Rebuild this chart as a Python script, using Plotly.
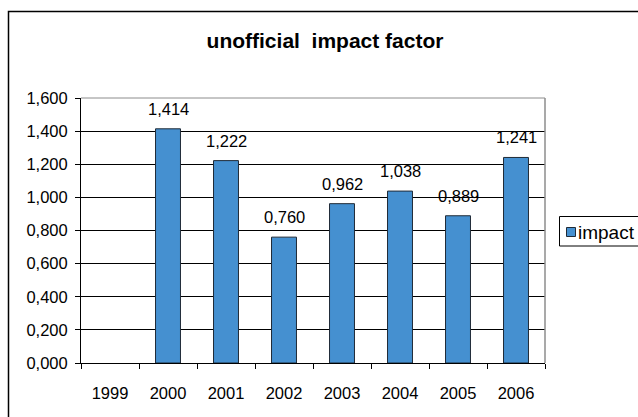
import plotly.graph_objects as go

years = ["1999", "2000", "2001", "2002", "2003", "2004", "2005", "2006"]
impact = [None, 1.414, 1.222, 0.760, 0.962, 1.038, 0.889, 1.241]
series_name = "impact"
title_text = "unofficial\u00a0\u00a0impact factor"
y_ticks = [0, 0.2, 0.4, 0.6, 0.8, 1.0, 1.2, 1.4, 1.6]

FONT = "Liberation Sans, Arial, sans-serif"
BAR_COLOR = "#4590D0"
BAR_LINE = "#1f2a36"

# plot area in pixels
L, R, T, B = 81, 545, 98, 363
PW, PH = R - L, B - T


def px(xp):
    return (xp - L) / PW


def py(yp):
    return (B - yp) / PH


fig = go.Figure()
fig.add_trace(go.Bar(
    x=years, y=impact, name=series_name,
    marker=dict(color=BAR_COLOR, line=dict(color=BAR_LINE, width=1)),
    width=0.43, showlegend=False,
))

annotations = []
for i, v in enumerate(impact):
    if v is None:
        continue
    annotations.append(dict(
        x=i, y=v, xref="x", yref="y", text=f"{v:.3f}".replace(".", ","),
        showarrow=False, yanchor="bottom", yshift=9,
        font=dict(family=FONT, size=16.5, color="#000"),
    ))

# custom legend
annotations.append(dict(
    x=px(576), y=py(232), xref="paper", yref="paper", text=series_name,
    showarrow=False, xanchor="left", yanchor="middle",
    font=dict(family=FONT, size=19, color="#000"),
))

fig.update_layout(
    width=638, height=417,
    margin=dict(l=L, r=638 - R, t=T, b=417 - B, autoexpand=False),
    paper_bgcolor="white", plot_bgcolor="white",
    separators=",.",
    title=dict(text=title_text, x=(325) / 638, xanchor="center", y=1 - 41 / 417, yanchor="middle",
               font=dict(family=FONT, size=21, color="#000", weight="bold")),
    font=dict(family=FONT, size=16, color="#000"),
    showlegend=False,
    annotations=annotations,
)

fig.update_xaxes(
    type="category", categoryorder="array", categoryarray=years,
    range=[-0.5, len(years) - 0.5],
    showline=True, linecolor="#000", linewidth=1,
    ticks="outside", ticklen=5, tickcolor="#000", tickson="boundaries",
    ticklabelstandoff=15, tickangle=0,
    showgrid=False, tickfont=dict(family=FONT, size=16.5, color="#000"),
)
fig.update_yaxes(
    range=[0, 1.6], tickvals=y_ticks, tickformat=".3f",
    showline=True, linecolor="#000", linewidth=1,
    ticks="outside", ticklen=5, tickcolor="#000",
    showgrid=True, gridcolor="#000", gridwidth=1, zeroline=False,
    ticklabelstandoff=4,
    tickfont=dict(family=FONT, size=16.5, color="#000"),
)

# plot-area border (gray top and right)
fig.add_shape(type="line", xref="paper", yref="paper", x0=0, x1=1, y0=1, y1=1,
              line=dict(color="#8c8c8c", width=1), layer="above")
fig.add_shape(type="line", xref="paper", yref="paper", x0=1, x1=1, y0=0, y1=1,
              line=dict(color="#8c8c8c", width=1.5), layer="above")
# outer chart border
fig.add_shape(type="rect", xref="paper", yref="paper",
              x0=px(8.5), x1=1.6, y0=-0.6, y1=py(11.5),
              line=dict(color="#000", width=1.5), layer="above")
# legend box and swatch
fig.add_shape(type="rect", xref="paper", yref="paper",
              x0=px(559.5), x1=px(640), y0=py(246), y1=py(216.5),
              line=dict(color="#000", width=1), fillcolor="white", layer="above")
fig.add_shape(type="rect", xref="paper", yref="paper",
              x0=px(566.5), x1=px(575.5), y0=py(236.5), y1=py(227.5),
              line=dict(color=BAR_LINE, width=1), fillcolor=BAR_COLOR, layer="above")

fig.write_html("out.html")
